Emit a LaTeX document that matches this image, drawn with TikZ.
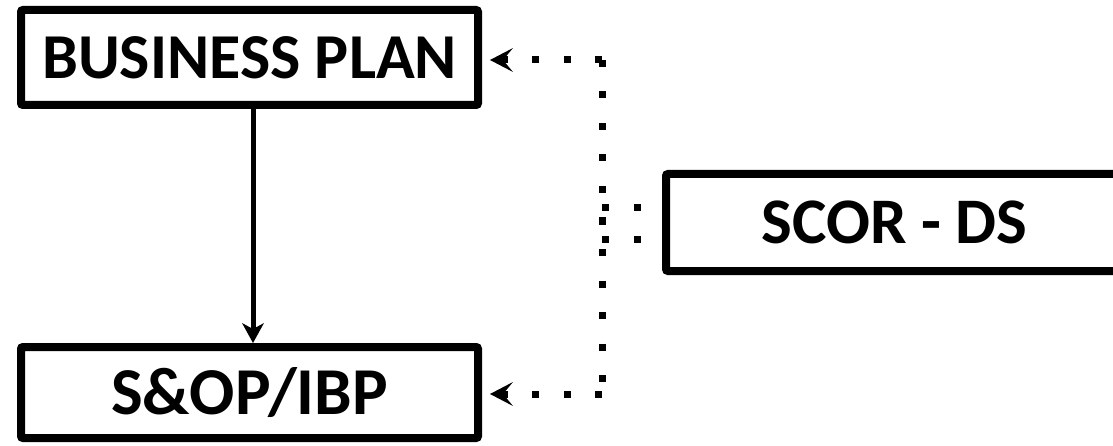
\documentclass[tikz,border=0pt]{standalone}
\usepackage{fontspec}
\setmainfont{Carlito}
\usetikzlibrary{arrows.meta, positioning}

\begin{document}
\begin{tikzpicture}[
    x=1pt, y=1pt,
    box/.style={rectangle, draw, line width=8pt, rounded corners=2pt, minimum width=457pt, minimum height=95pt, align=center, font=\bfseries\fontsize{64}{68}\selectfont},
    flow/.style={line width=5pt, -{Stealth[length=20pt, width=22pt, inset=6pt, line width=0pt]}},
    link/.style={line width=7pt, dash pattern=on 7pt off 24.5pt},
    linkarrow/.style={link, -{Stealth[length=23pt, width=24pt, inset=10pt, line width=0pt]}, shorten >=8pt}
]
\useasboundingbox (0,0) rectangle (1113,445);

\node[box] (plan) at (249.5,387.5) {BUSINESS PLAN};
\node[box, minimum height=91pt, font=\bfseries\fontsize{67}{70}\selectfont] (sop) at (249.5,52.5) {S\&OP/IBP};
\node[box, minimum height=97pt, font=\bfseries\fontsize{65}{70}\selectfont] (scor) at (894.5,222.5) {SCOR - DS};

% dotted feedback links
\coordinate (jt) at (602,385);
\coordinate (jb) at (602,51);
\coordinate (s1) at ([yshift=15pt]scor.west);
\coordinate (s2) at ([yshift=-17pt]scor.west);

\draw[flow] ([xshift=3.5pt]plan.south) -- ([xshift=3.5pt]sop.north);
\draw[link] (jt) -- (jb);
\draw[linkarrow] (jt) -- (plan.east |- jt);
\draw[linkarrow] (jb) -- (sop.east |- jb);
\draw[link] (jt |- s1) -- (s1);
\draw[link] (jt |- s2) -- (s2);

\end{tikzpicture}
\end{document}
